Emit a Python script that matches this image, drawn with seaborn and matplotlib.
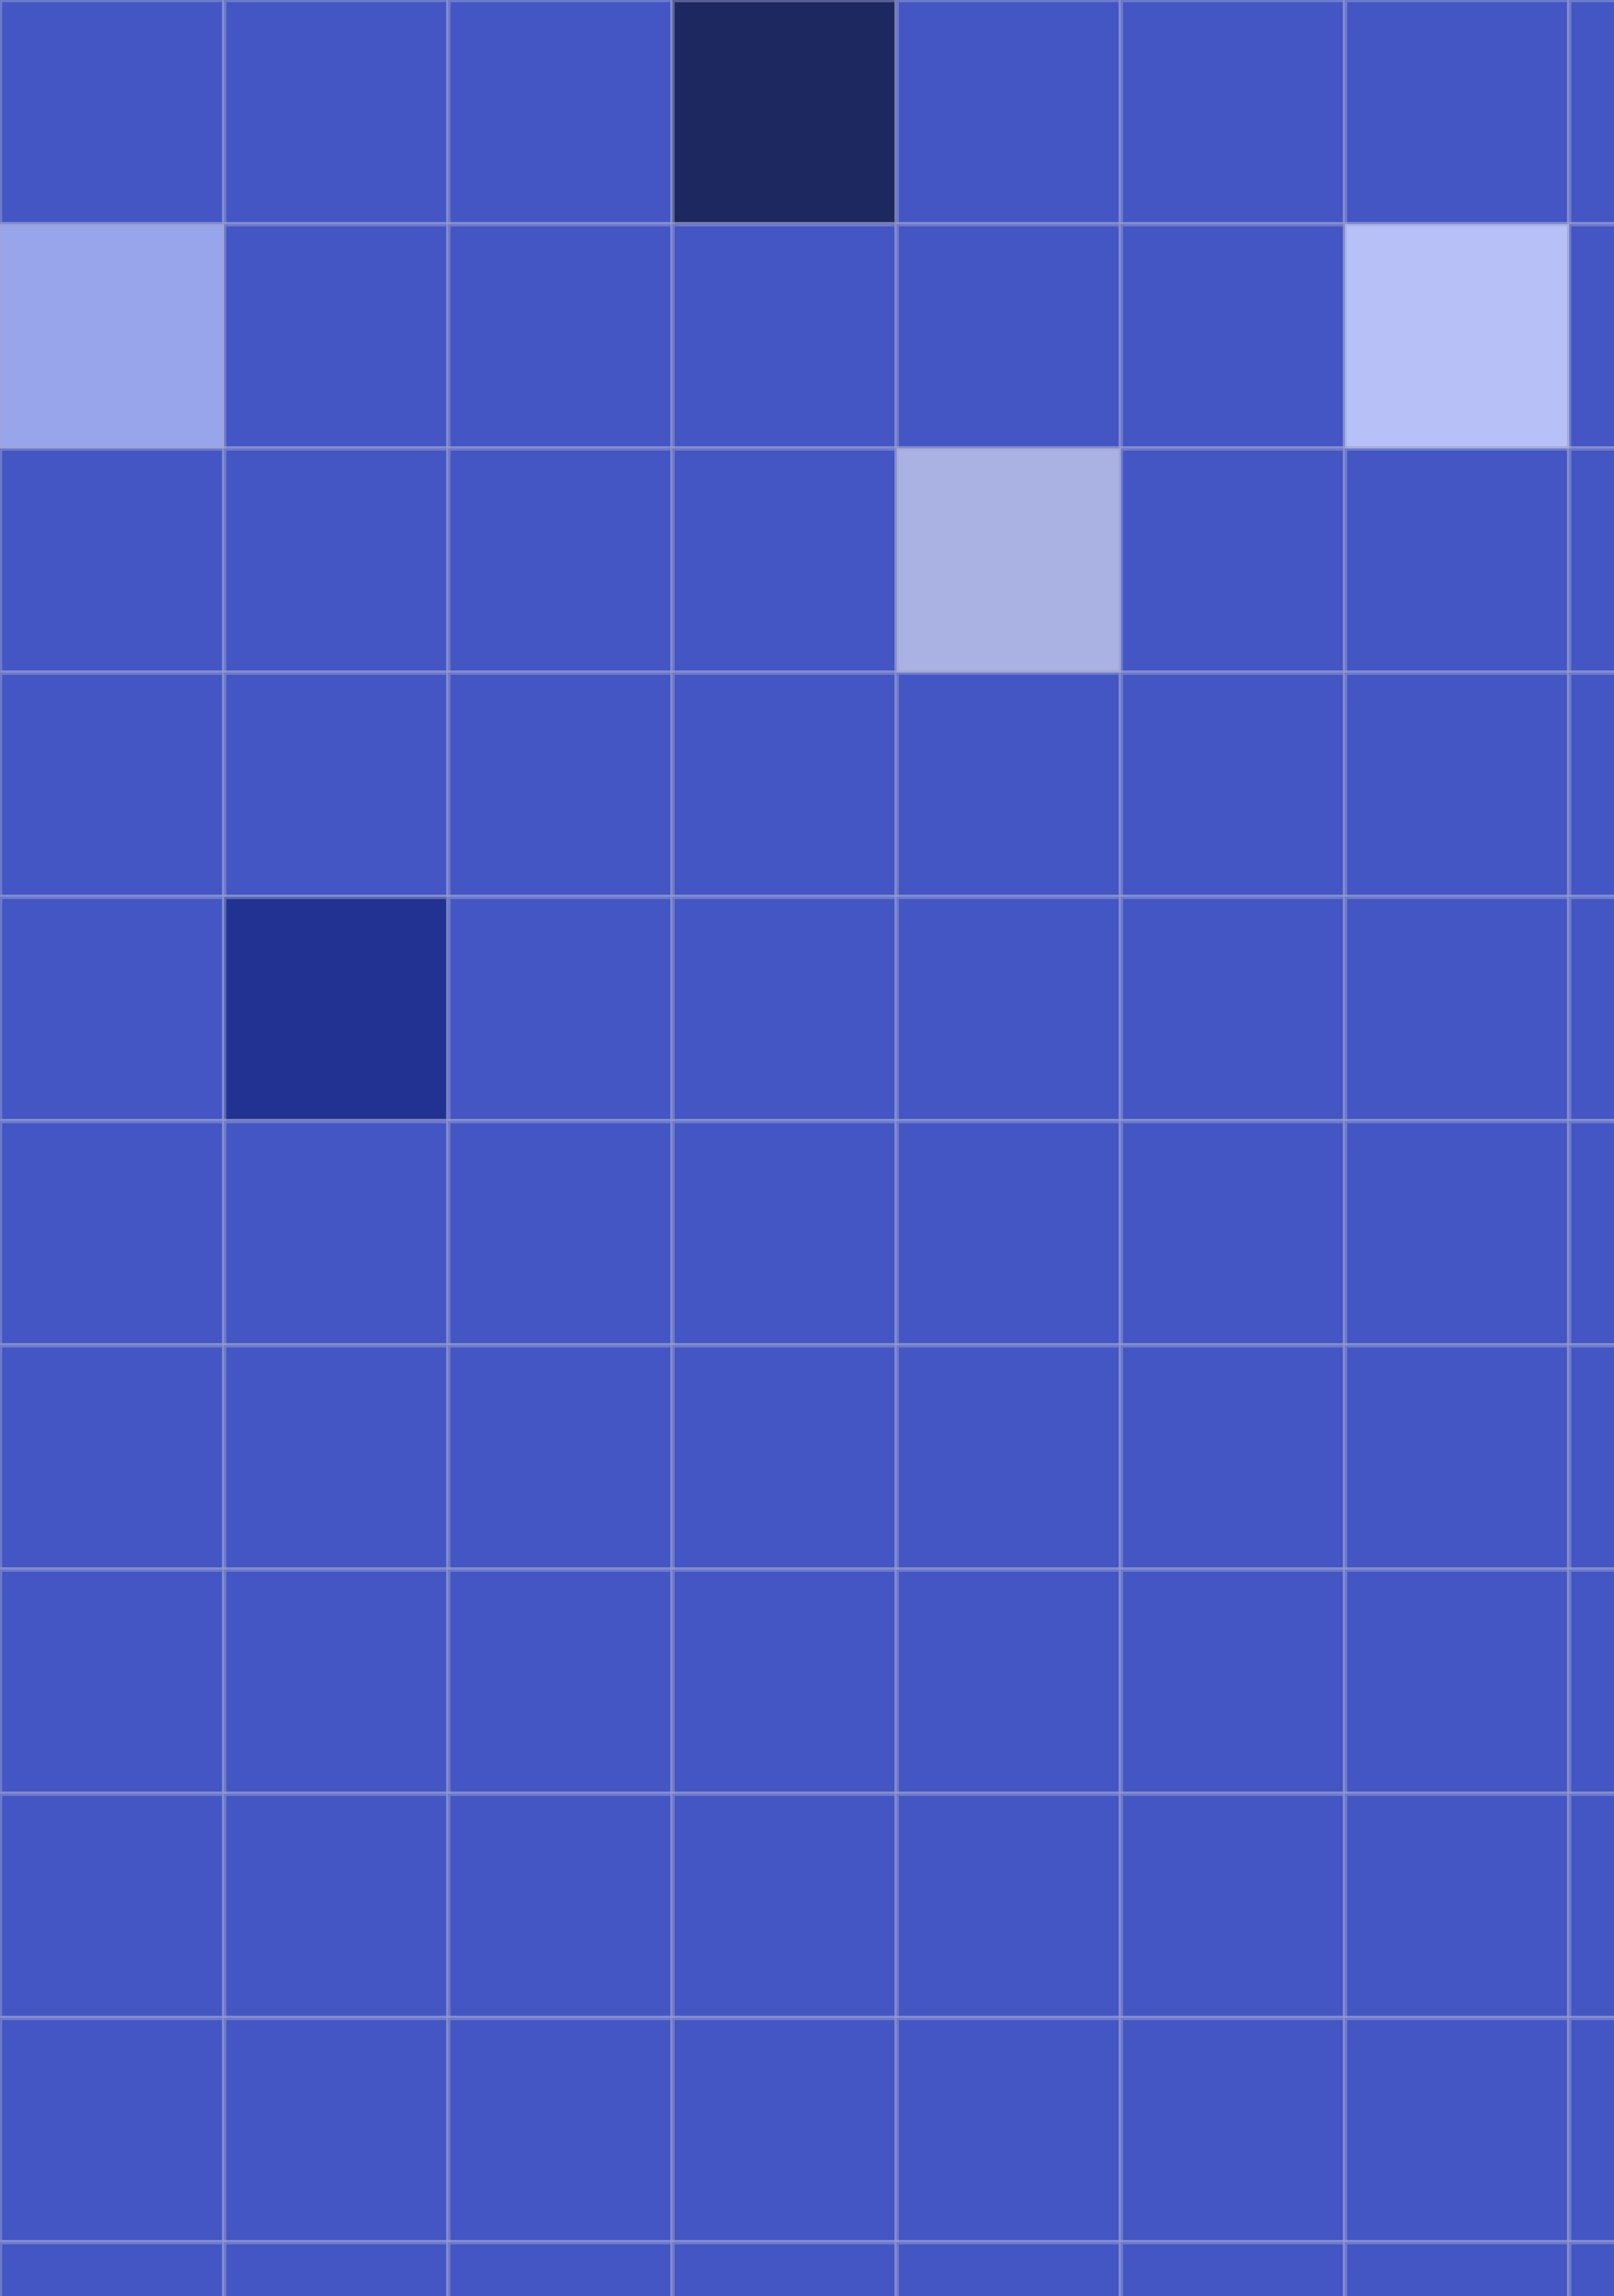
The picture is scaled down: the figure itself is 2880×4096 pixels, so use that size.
import numpy as np
import pandas as pd
import matplotlib
matplotlib.use("Agg")
import matplotlib.pyplot as plt
from matplotlib.colors import LinearSegmentedColormap
import seaborn as sns

# ---- data ----
row_labels = [f"r{i}" for i in range(11)]
col_labels = [f"c{j}" for j in range(8)]

# values per row (11 rows x 8 columns); 0 = baseline
row0 = [0, 0, 0, -3, 0, 0, 0, 0]
row1 = [3, 0, 0, 0, 0, 0, 5, 0]
row2 = [0, 0, 0, 0, 4, 0, 0, 0]
row3 = [0, 0, 0, 0, 0, 0, 0, 0]
row4 = [0, -2, 0, 0, 0, 0, 0, 0]
row5 = [0, 0, 0, 0, 0, 0, 0, 0]
row6 = [0, 0, 0, 0, 0, 0, 0, 0]
row7 = [0, 0, 0, 0, 0, 0, 0, 0]
row8 = [0, 0, 0, 0, 0, 0, 0, 0]
row9 = [0, 0, 0, 0, 0, 0, 0, 0]
row10 = [0, 0, 0, 0, 0, 0, 0, 0]

rows = [row0, row1, row2, row3, row4, row5, row6, row7, row8, row9, row10]
df = pd.DataFrame(rows, index=row_labels, columns=col_labels)

# ---- colormap ----
vmin, vmax = -3, 5
anchors = [(-3, "#1e2860"), (-2, "#223292"), (0, "#4455c4"),
           (3, "#99a5ea"), (4, "#aab2e2"), (5, "#b8c0f8")]
cmap = LinearSegmentedColormap.from_list(
    "custom", [((v - vmin) / (vmax - vmin), c) for v, c in anchors])

fig = plt.figure(figsize=(7.2, 10.24), dpi=400)
ax = fig.add_axes([0, 0, 1, 1])
sns.heatmap(df, ax=ax, cmap=cmap, vmin=vmin, vmax=vmax, cbar=False,
            linewidths=1.44, linecolor=(160/255, 165/255, 210/255, 0.45),
            xticklabels=False, yticklabels=False)
ax.set_xlim(0, 7.2)
ax.set_ylim(10.24, 0)
ax.set_xlabel("")
ax.set_ylabel("")
for s in ax.spines.values():
    s.set_visible(False)

fig.savefig("out.png", dpi=400)
